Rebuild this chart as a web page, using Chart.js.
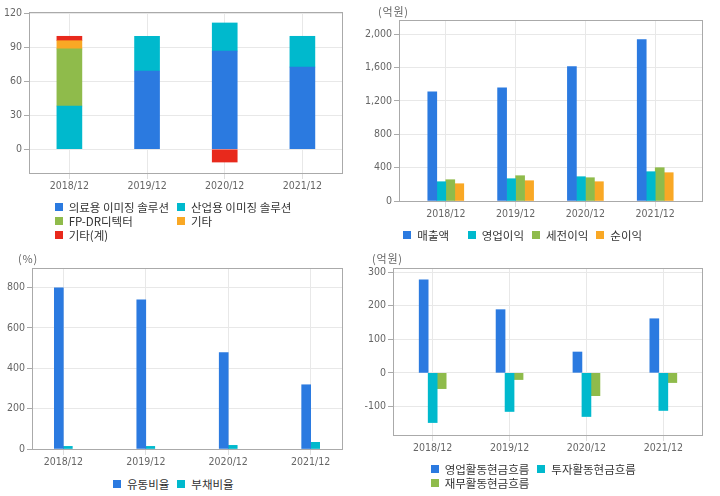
<!DOCTYPE html>
<html>
<head>
<meta charset="utf-8">
<script src="https://cdn.jsdelivr.net/npm/chart.js@4.4.1/dist/chart.umd.min.js"></script>
<style>
  body { margin: 0; background: #fff; width: 720px; height: 496px; position: relative; overflow: hidden; font-family: "Noto Sans CJK KR", sans-serif; }
  canvas { position: absolute; }
  .unit { position: absolute; font-size: 11px; line-height: 12px; color: #666; letter-spacing: 0.8px; }
  .legend { position: absolute; width: 360px; display: flex; justify-content: center; }
  .legend .grid { display: inline-grid; column-gap: 8px; }
  .item { display: flex; align-items: center; height: 13.7px; font-size: 11.5px; color: #333; white-space: nowrap; }
  .box { width: 8px; height: 8px; margin-right: 6px; flex: none; }
</style>
</head>
<body>
<canvas id="mix" width="360" height="200" style="left:0;top:0"></canvas>
<canvas id="pl" width="360" height="230" style="left:360px;top:0"></canvas>
<canvas id="ratio" width="360" height="222" style="left:0;top:248px"></canvas>
<canvas id="cf" width="360" height="210" style="left:360px;top:248px"></canvas>

<div class="unit" style="left:378px;top:5px">(억원)</div>
<div class="unit" style="left:18px;top:252px">(%)</div>
<div class="unit" style="left:372px;top:252px">(억원)</div>

<div class="legend" id="mixLegend" style="left:-7px;top:200.6px"></div>
<div class="legend" id="plLegend" style="left:348px;top:228.2px"></div>
<div class="legend" id="ratioLegend" style="left:-6.7px;top:476.8px"></div>
<div class="legend" id="cfLegend" style="left:353.3px;top:462.1px"></div>

<script>
const years = ['2018/12', '2019/12', '2020/12', '2021/12'];
const colors = ['#2b7ae0', '#00b9cd', '#8fbb4b', '#f9a825', '#e8291c'];

// 제품별 매출 구성 (%)
const mixNames = ['의료용 이미징 솔루션', '산업용 이미징 솔루션', 'FP-DR디텍터', '기타', '기타(계)'];
const medical = [null, 69.3, 87.0, 72.8];
const industrial = [38.3, 30.7, 24.8, 27.2];
const fpdr = [50.5, null, null, null];
const etc = [7.3, null, null, null];
const etcTotal = [3.9, null, -11.3, null];
const mixTicks = [0, 30, 60, 90, 120];

// 손익 (억원)
const plNames = ['매출액', '영업이익', '세전이익', '순이익'];
const revenue = [1309, 1357, 1609, 1932];
const opIncome = [231, 267, 291, 351];
const pretax = [255, 303, 279, 399];
const netIncome = [207, 243, 231, 339];
const plTicks = [0, 400, 800, 1200, 1600, 2000];

// 안정성 (%)
const ratioNames = ['유동비율', '부채비율'];
const currentRatio = [798, 738, 477, 318];
const debtRatio = [13, 13, 18, 33];
const ratioTicks = [0, 200, 400, 600, 800];

// 현금흐름 (억원)
const cfNames = ['영업활동현금흐름', '투자활동현금흐름', '재무활동현금흐름'];
const opCf = [277, 188, 62, 161];
const invCf = [-148, -115, -130, -112];
const finCf = [-47, -20, -68, -29];
const cfTicks = [-100, 0, 100, 200, 300];

const tickFont = { family: "'Liberation Sans Narrow', 'DejaVu Sans Condensed', sans-serif", size: 10.5 };

const frame = {
  id: 'frame',
  afterDatasetsDraw(chart) {
    const { ctx, chartArea: a } = chart;
    ctx.save();
    ctx.strokeStyle = '#aaa';
    ctx.lineWidth = 1;
    ctx.strokeRect(a.left + 0.5, a.top + 0.5, a.right - a.left, a.bottom - a.top);
    ctx.restore();
  }
};

function barChart(id, names, series, o) {
  const datasets = series.map((d, i) => ({
    label: names[i],
    data: d,
    backgroundColor: colors[i],
    borderWidth: 0,
    barThickness: o.bar
  }));
  return new Chart(document.getElementById(id), {
    type: 'bar',
    data: { labels: years.map((_, i) => i), datasets },
    plugins: [frame],
    options: {
      responsive: false,
      animation: false,
      layout: { padding: { left: 0, top: o.top, right: 18, bottom: 0 } },
      plugins: { legend: { display: false }, tooltip: { enabled: false } },
      scales: {
        x: {
          type: 'linear',
          min: o.xMin,
          max: o.xMax,
          offset: false,
          stacked: !!o.stacked,
          afterBuildTicks: s => { s.ticks = years.map((_, i) => ({ value: i })); },
          afterFit: s => { s.height = o.xHeight; },
          grid: { offset: false, color: '#e8e8e8', tickColor: '#dedede', tickLength: 6 },
          border: { display: false },
          ticks: { padding: 1, color: '#666', font: tickFont, maxRotation: 0, autoSkip: false, callback: v => years[v] }
        },
        y: {
          min: o.yMin,
          max: o.yMax,
          stacked: !!o.stacked,
          afterBuildTicks: s => { s.ticks = o.yTicks.map(v => ({ value: v })); },
          afterFit: s => { s.width = o.yWidth; },
          grid: { color: '#e8e8e8', tickColor: '#aaa', tickLength: 5 },
          border: { display: false },
          ticks: { padding: 2, color: '#666', font: tickFont, callback: v => v.toLocaleString('en-US') }
        }
      }
    }
  });
}

function legend(id, names, cols) {
  const grid = document.createElement('div');
  grid.className = 'grid';
  grid.style.gridTemplateColumns = 'repeat(' + cols + ', 1fr)';
  names.forEach((n, i) => {
    const item = document.createElement('div');
    item.className = 'item';
    const box = document.createElement('span');
    box.className = 'box';
    box.style.background = colors[i];
    item.appendChild(box);
    item.appendChild(document.createTextNode(n));
    grid.appendChild(item);
  });
  document.getElementById(id).appendChild(grid);
}

barChart('mix', mixNames, [medical, industrial, fpdr, etc, etcTotal], {
  top: 12, xHeight: 27, yWidth: 29, bar: 25, stacked: true,
  xMin: -0.52, xMax: 3.51, yMin: -21, yMax: 121.5, yTicks: mixTicks
});
barChart('pl', plNames, [revenue, opIncome, pretax, netIncome], {
  top: 20, xHeight: 29, yWidth: 39, bar: 9,
  xMin: -0.67, xMax: 3.67, yMin: 0, yMax: 2168, yTicks: plTicks
});
barChart('ratio', ratioNames, [currentRatio, debtRatio], {
  top: 20, xHeight: 21, yWidth: 32, bar: 9,
  xMin: -0.38, xMax: 3.38, yMin: 0, yMax: 896, yTicks: ratioTicks
});
barChart('cf', cfNames, [opCf, invCf, finCf], {
  top: 20, xHeight: 23, yWidth: 33, bar: 9,
  xMin: -0.516, xMax: 3.503, yMin: -185, yMax: 312, yTicks: cfTicks
});

legend('mixLegend', mixNames, 2);
legend('plLegend', plNames, 4);
legend('ratioLegend', ratioNames, 2);
legend('cfLegend', cfNames, 2);
</script>
</body>
</html>
